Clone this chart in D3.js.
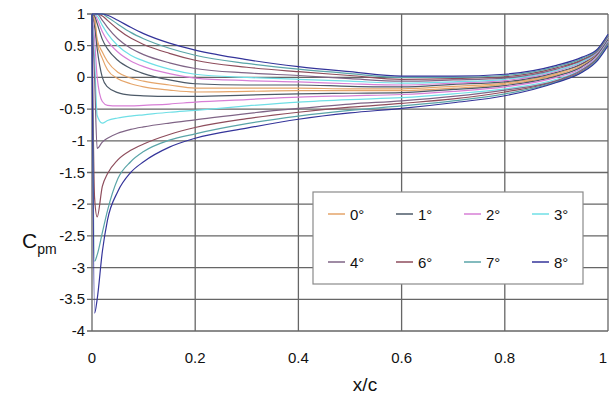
<!DOCTYPE html>
<html>
<head>
<meta charset="utf-8">
<script src="https://cdn.jsdelivr.net/npm/d3@7/dist/d3.min.js"></script>
<style>
  body { margin: 0; background: #fff; }
  text { font-family: "Liberation Sans", Arial, sans-serif; fill: #111; }
</style>
</head>
<body>
<div id="chart"></div>
<script>
const MARGIN = { TOP: 14, BOTTOM: 72, LEFT: 92, RIGHT: 2 }
const WIDTH = 610 - MARGIN.LEFT - MARGIN.RIGHT;
const HEIGHT = 403 - MARGIN.TOP - MARGIN.BOTTOM;

// chordwise stations x/c
const xc = [0, 0.005, 0.01, 0.02, 0.03, 0.05, 0.075, 0.1, 0.15, 0.2, 0.3, 0.4, 0.5, 0.6, 0.7, 0.8, 0.9, 0.95, 0.98, 1];

const angles = ['0°', '1°', '2°', '3°', '4°', '6°', '7°', '8°'];
const colors = ['#e5a56a', '#4d5a68', '#d77fd6', '#6fdfe6', '#7f6486', '#8e4d5c', '#5aa5a8', '#34349a'];

const xTicks = [0, 0.2, 0.4, 0.6, 0.8, 1];
const yTicks = [1, 0.5, 0, -0.5, -1, -1.5, -2, -2.5, -3, -3.5, -4];

// upper surface Cp
const upper0 = [1.0, 0.9, 0.55, 0.3, 0.12, -0.02, -0.1, -0.15, -0.2, -0.23, -0.22, -0.21, -0.21, -0.21, -0.17, -0.11, 0.04, 0.19, 0.37, 0.6];
const upper1 = [1.0, 0.8, 0.45, 0.0, -0.15, -0.24, -0.28, -0.29, -0.3, -0.3, -0.28, -0.26, -0.25, -0.24, -0.19, -0.13, 0.02, 0.17, 0.36, 0.59];
const upper2 = [1.0, 0.6, 0.0, -0.38, -0.44, -0.45, -0.45, -0.44, -0.42, -0.39, -0.35, -0.31, -0.29, -0.27, -0.22, -0.15, 0.0, 0.15, 0.34, 0.57];
const upper3 = [1.0, 0.3, -0.6, -0.72, -0.68, -0.64, -0.61, -0.59, -0.55, -0.52, -0.45, -0.39, -0.35, -0.32, -0.26, -0.18, -0.03, 0.13, 0.32, 0.56];
const upper4 = [1.0, 0.0, -1.12, -1.02, -0.96, -0.88, -0.82, -0.78, -0.72, -0.67, -0.57, -0.49, -0.42, -0.37, -0.3, -0.2, -0.05, 0.12, 0.31, 0.55];
const upper6 = [1.0, -1.9, -2.2, -1.72, -1.52, -1.3, -1.15, -1.05, -0.9, -0.79, -0.65, -0.55, -0.47, -0.41, -0.34, -0.23, -0.06, 0.1, 0.3, 0.53];
const upper7 = [1.0, -2.9, -2.8, -2.45, -2.1, -1.6, -1.33, -1.17, -0.99, -0.89, -0.73, -0.61, -0.52, -0.45, -0.37, -0.26, -0.07, 0.09, 0.29, 0.52];
const upper8 = [1.0, -3.72, -3.5, -2.75, -2.25, -1.8, -1.5, -1.33, -1.1, -0.96, -0.8, -0.66, -0.56, -0.49, -0.4, -0.29, -0.08, 0.08, 0.27, 0.5];

// lower surface Cp
const lower0 = [1.0, 0.95, 0.6, 0.4, 0.25, 0.08, -0.01, -0.06, -0.12, -0.17, -0.17, -0.17, -0.18, -0.18, -0.14, -0.09, 0.06, 0.21, 0.38, 0.61];
const lower1 = [1.0, 0.97, 0.85, 0.6, 0.45, 0.27, 0.14, 0.06, -0.04, -0.1, -0.12, -0.12, -0.14, -0.15, -0.11, -0.07, 0.08, 0.22, 0.39, 0.62];
const lower2 = [1.0, 1.0, 0.92, 0.72, 0.58, 0.4, 0.26, 0.17, 0.06, -0.01, -0.05, -0.07, -0.1, -0.12, -0.09, -0.05, 0.1, 0.24, 0.4, 0.63];
const lower3 = [1.0, 1.0, 0.97, 0.82, 0.69, 0.5, 0.35, 0.26, 0.13, 0.05, 0.0, -0.03, -0.06, -0.09, -0.07, -0.03, 0.11, 0.25, 0.41, 0.64];
const lower4 = [1.0, 1.0, 1.0, 0.9, 0.79, 0.61, 0.46, 0.36, 0.23, 0.14, 0.07, 0.03, -0.02, -0.06, -0.04, -0.01, 0.13, 0.27, 0.42, 0.65];
const lower6 = [1.0, 1.0, 1.0, 0.97, 0.9, 0.76, 0.62, 0.52, 0.38, 0.27, 0.16, 0.09, 0.03, -0.03, -0.02, 0.01, 0.15, 0.28, 0.43, 0.66];
const lower7 = [1.0, 1.0, 1.0, 1.0, 0.95, 0.84, 0.71, 0.61, 0.46, 0.35, 0.22, 0.13, 0.06, 0.0, 0.0, 0.03, 0.17, 0.3, 0.44, 0.67];
const lower8 = [1.0, 1.0, 1.0, 1.0, 0.98, 0.9, 0.79, 0.69, 0.54, 0.43, 0.28, 0.17, 0.09, 0.02, 0.02, 0.05, 0.19, 0.32, 0.45, 0.68];

const uppers = [upper0, upper1, upper2, upper3, upper4, upper6, upper7, upper8];
const lowers = [lower0, lower1, lower2, lower3, lower4, lower6, lower7, lower8];

const series = [];
angles.forEach((a, i) => {
  series.push({ angle: a, color: colors[i], values: lowers[i] });
  series.push({ angle: a, color: colors[i], values: uppers[i] });
});

const svg = d3.select('#chart')
  .append('svg')
    .attr('width', WIDTH + MARGIN.LEFT + MARGIN.RIGHT)
    .attr('height', HEIGHT + MARGIN.TOP + MARGIN.BOTTOM)
  .append('g')
    .attr('transform', `translate(${MARGIN.LEFT}, ${MARGIN.TOP})`)

const x = d3.scaleLinear().domain([0, 1]).range([0, 516])
const y = d3.scaleLinear().domain([-4, 1]).range([317, 0])

// grid
svg.append('g')
  .selectAll('line')
  .data(yTicks)
  .enter().append('line')
    .attr('x1', -5)
    .attr('x2', x(1))
    .attr('y1', d => y(d))
    .attr('y2', d => y(d))
    .attr('stroke', '#666')
    .attr('stroke-width', 1.3)

svg.append('g')
  .selectAll('line')
  .data(xTicks)
  .enter().append('line')
    .attr('x1', d => x(d))
    .attr('x2', d => x(d))
    .attr('y1', y(1))
    .attr('y2', y(-4))
    .attr('stroke', '#666')
    .attr('stroke-width', 1.3)

// tick labels
svg.append('g')
  .selectAll('text')
  .data(yTicks)
  .enter().append('text')
    .attr('x', -7)
    .attr('y', d => y(d) + 5)
    .attr('text-anchor', 'end')
    .style('font-size', '15px')
    .text(d => d)

svg.append('g')
  .selectAll('text')
  .data(xTicks)
  .enter().append('text')
    .attr('x', d => Math.min(x(d), 511))
    .attr('y', 349)
    .attr('text-anchor', 'middle')
    .style('font-size', '15px')
    .text(d => d)

// axis titles
svg.append('text')
  .attr('x', 273)
  .attr('y', 377)
  .attr('text-anchor', 'middle')
  .style('font-size', '19px')
  .text('x/c')

const yTitle = svg.append('text')
  .attr('x', -70)
  .attr('y', 234)
  .style('font-size', '21px')
yTitle.append('tspan').text('C')
yTitle.append('tspan')
  .attr('dy', 6)
  .style('font-size', '14px')
  .text('pm')

// curves
svg.append('clipPath')
  .attr('id', 'plot-clip')
  .append('rect')
    .attr('x', -1)
    .attr('y', -1)
    .attr('width', 518)
    .attr('height', 319)

const line = d3.line()
  .x((d, i) => x(xc[i]))
  .y(d => y(d))
  .curve(d3.curveMonotoneX)

svg.append('g')
  .attr('clip-path', 'url(#plot-clip)')
  .selectAll('path')
  .data(series)
  .enter().append('path')
    .attr('d', d => line(d.values))
    .attr('fill', 'none')
    .attr('stroke', d => d.color)
    .attr('stroke-width', 1.2)

// legend
const legend = svg.append('g')
  .attr('transform', 'translate(221, 178)')

legend.append('rect')
  .attr('x', 0)
  .attr('y', 0)
  .attr('width', 270)
  .attr('height', 92)
  .attr('fill', '#fff')
  .attr('stroke', '#8a8a8a')
  .attr('stroke-width', 1.2)

const items = legend.selectAll('.item')
  .data(angles)
  .enter().append('g')
    .attr('class', 'item')
    .attr('transform', (d, i) => `translate(${15 + (i % 4) * 68}, ${i < 4 ? 22 : 70})`)

items.append('line')
  .attr('x1', 0)
  .attr('x2', 17)
  .attr('stroke', (d, i) => colors[i])
  .attr('stroke-width', 1.5)

items.append('text')
  .attr('x', 22)
  .attr('y', 6)
  .style('font-size', '15px')
  .text(d => d)
</script>
</body>
</html>
